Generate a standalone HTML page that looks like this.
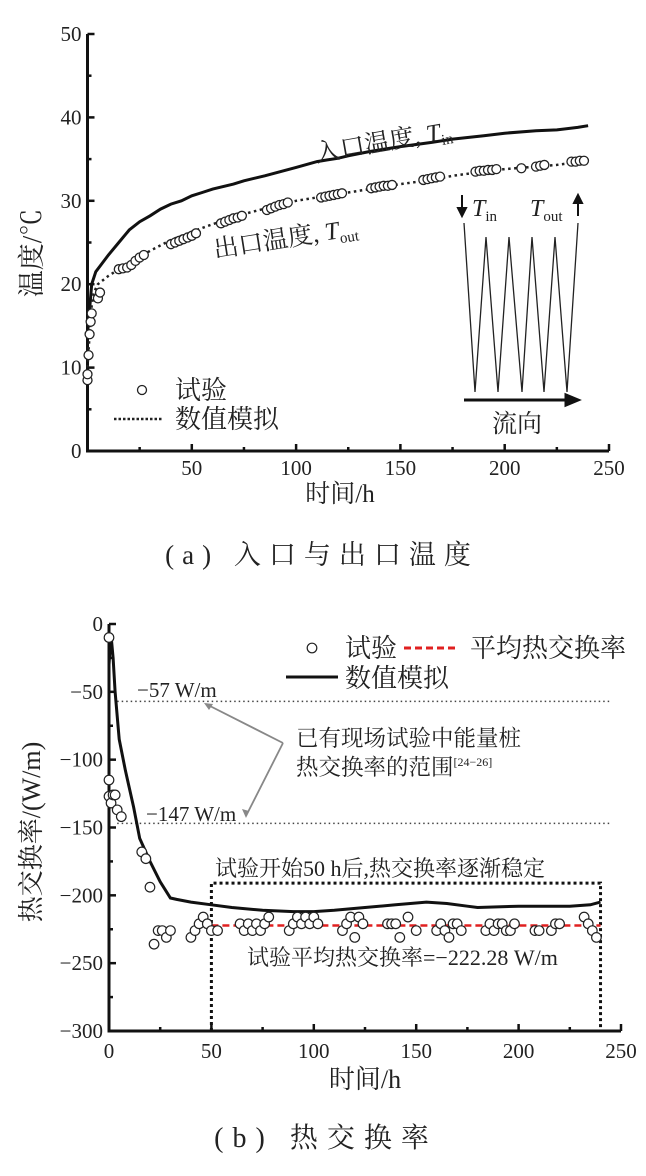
<!DOCTYPE html>
<html><head><meta charset="utf-8">
<style>
html,body{margin:0;padding:0;background:#fff;}
svg{display:block;}
text{font-family:"Liberation Serif","Noto Serif CJK SC",serif;fill:#222;}
.cjk{font-family:"Liberation Serif","Noto Serif CJK SC","Noto Sans CJK SC",serif;}
</style></head>
<body>
<svg id="fig" width="646" height="1176" viewBox="0 0 646 1176" xmlns="http://www.w3.org/2000/svg">
<g id="chartA"></g>
<g id="chartB"></g>
</svg>
<script>
// ---- Chart A data ----
const aTicksX = [50,100,150,200,250];
const aTicksY = [0,10,20,30,40,50];
const tinT = [0,1,2,4,7,10,15,20,25,30,35,40,45,50,55,60,70,75,85,100,110,115,120,125,135,150,165,175,190,200,215,225,235,240];
const tinV = [14,17,20,21.5,22.5,23.5,25,26.5,27.5,28.2,29,29.6,30,30.6,31,31.4,32,32.4,33,34,34.7,34.9,35.1,35.4,35.9,36.5,37,37.4,37.8,38.1,38.4,38.5,38.8,39];
const toutT = [0,1,2,3,5,10,15,20,30,40,50,60,75,90,100,115,125,140,150,165,175,190,200,215,225,240];
const toutV = [10,14,17.5,19,20,21,21.8,22.5,24,25.3,26.3,27.2,28.4,29.4,30,30.6,31,31.6,32,32.5,33,33.5,33.8,34.1,34.3,34.8];
const expAT = [0,0,0.5,1,1.5,2,5,6,15,17,19,21,23,25,27,40,42,44,46,48,50,52,64,66,68,70,72,74,86,88,90,92,94,96,112,114,116,118,120,122,136,138,140,142,144,146,161,163,165,167,169,186,188,190,192,194,196,208,215,217,219,232,234,236,238];
const expAV = [8.5,9.2,11.5,14,15.5,16.5,18.3,19,21.8,21.9,22,22.3,22.8,23.2,23.5,24.8,25,25.2,25.4,25.6,25.8,26.1,27.3,27.5,27.7,27.9,28,28.2,28.9,29.1,29.3,29.5,29.6,29.8,30.4,30.5,30.6,30.7,30.8,30.9,31.5,31.6,31.7,31.8,31.8,31.9,32.5,32.6,32.7,32.8,32.9,33.5,33.6,33.6,33.7,33.7,33.8,33.9,34.1,34.2,34.3,34.7,34.7,34.8,34.8];

// ---- Chart B data ----
const bTicksX = [0,50,100,150,200,250];
const bTicksY = [0,-50,-100,-150,-200,-250,-300];
const simT = [0,1,2,3,5,8,12,15,20,25,30,33,40,50,60,75,90,100,110,125,140,155,165,175,180,200,225,235,240];
const simV = [-30,-8,-25,-50,-85,-108,-135,-158,-175,-190,-202,-203,-205,-207,-209,-211,-212,-212,-211,-209,-207,-205,-206,-208,-209,-208,-208,-207,-205];
const expBT = [0,0,0,1,2,3,4,6,16,18,20,22,24,26,28,30,40,42,44,46,48,50,53,64,66,68,70,72,74,76,78,88,90,92,94,96,98,100,102,114,116,118,120,122,124,136,138,140,142,146,150,160,162,164,166,168,170,172,184,186,188,190,192,194,196,198,208,210,216,218,220,232,234,236,238];
const expBV = [-10,-115,-127,-132,-126,-126,-137,-142,-168,-173,-194,-236,-226,-226,-231,-226,-231,-226,-221,-216,-221,-226,-226,-221,-226,-221,-226,-221,-226,-221,-216,-226,-221,-216,-221,-216,-221,-216,-221,-226,-221,-216,-231,-216,-221,-221,-221,-221,-231,-216,-226,-226,-221,-226,-231,-221,-221,-226,-226,-221,-226,-221,-221,-226,-226,-221,-226,-226,-226,-221,-221,-216,-221,-226,-231];
const meanRate = [-222.28];
const refLines = [-57,-147];
const stableStart = [50,240,-191];

const NS = "http://www.w3.org/2000/svg";
function mk(parent, tag, attrs, txt){
  const e = document.createElementNS(NS, tag);
  for (const k in attrs) e.setAttribute(k, attrs[k]);
  if (txt !== undefined) e.textContent = txt;
  parent.appendChild(e);
  return e;
}
const axA = {x0:87.5, x1:609, y0:451, y1:34, vmax:50, tmax:250};
function ax(t){return axA.x0 + t*(axA.x1-axA.x0)/axA.tmax;}
function ay(v){return axA.y0 - v*(axA.y0-axA.y1)/axA.vmax;}
const axB = {x0:109, x1:621, y0:624, y1:1031};
function bx(t){return axB.x0 + t*(axB.x1-axB.x0)/250;}
function by(v){return axB.y0 + (-v)*(axB.y1-axB.y0)/300;}

// ======== Chart A ========
const A = document.getElementById('chartA');
let e;
e = mk(A,'path',{d:`M${ax(0)},${ay(50)} V${ay(0)} H${ax(250)}`,fill:'none',stroke:'#111','stroke-width':3});


for (let v=0; v<=50; v+=5){
  const len = v%10===0?7:4;
  e = mk(A,'line',{x1:ax(0),x2:ax(0)+len,y1:ay(v),y2:ay(v),stroke:'#111','stroke-width':2.5});
  
  
}
for (let t=25; t<=250; t+=25){
  const len = t%50===0?7:4;
  e = mk(A,'line',{x1:ax(t),x2:ax(t),y1:ay(0),y2:ay(0)-len,stroke:'#111','stroke-width':2.5});
  
  
}
aTicksY.forEach(v=>{
  e = mk(A,'text',{x:ax(0)-6,y:ay(v)+7,'text-anchor':'end','font-size':21},String(v));
  
  
});
aTicksX.forEach(t=>{
  e = mk(A,'text',{x:ax(t),y:475,'text-anchor':'middle','font-size':21},String(t));
  
  
});
e = mk(A,'text',{x:340,y:502,'text-anchor':'middle','font-size':25,class:'cjk'},'时间/h');


e = mk(A,'text',{x:0,y:0,'text-anchor':'middle','font-size':27,class:'cjk',transform:'translate(41,253) rotate(-90)'},'温度/℃');


e = mk(A,'path',{d:tinT.map((t,i)=>(i?'L':'M')+ax(t).toFixed(1)+','+ay(tinV[i]).toFixed(1)).join(' '),fill:'none',stroke:'#111','stroke-width':3});


e = mk(A,'path',{d:toutT.map((t,i)=>(i?'L':'M')+ax(t).toFixed(1)+','+ay(toutV[i]).toFixed(1)).join(' '),fill:'none',stroke:'#222','stroke-width':2.5,'stroke-dasharray':'2.5 3.5'});


expAT.forEach((t,i)=>{
  e = mk(A,'circle',{cx:ax(t),cy:ay(expAV[i]),r:4.5,fill:'#fff',stroke:'#222','stroke-width':1.3});
  
  
});
e = mk(A,'text',{x:0,y:0,'font-size':25,class:'cjk',transform:'translate(317,162) rotate(-10)'});


e.innerHTML = '入口温度, <tspan font-style="italic">T</tspan><tspan font-size="15" dy="5">in</tspan>';
e = mk(A,'text',{x:0,y:0,'font-size':25,class:'cjk',transform:'translate(215,258) rotate(-9)'});


e.innerHTML = '出口温度, <tspan font-style="italic">T</tspan><tspan font-size="15" dy="5">out</tspan>';
const zx=[464,475,486,498,509,522,532,544,555,567,578];
const zy=[223,392,237,392,237,392,237,392,237,392,223];
e = mk(A,'path',{d:zx.map((x,i)=>(i?'L':'M')+x+','+zy[i]).join(' '),fill:'none',stroke:'#222','stroke-width':1.3});


e = mk(A,'path',{d:'M464,400 H572 M566,395 L578,400 L566,405 Z',stroke:'#111','stroke-width':3,fill:'#111'});


e = mk(A,'text',{x:517,y:432,'text-anchor':'middle','font-size':25,class:'cjk'},'流向');


e = mk(A,'path',{d:'M462,195 V210 M458,208 L462,216 L466,208 Z',stroke:'#111','stroke-width':2,fill:'#111'});


e = mk(A,'path',{d:'M578,216 V201 M574,203 L578,195 L582,203 Z',stroke:'#111','stroke-width':2,fill:'#111'});


e = mk(A,'text',{x:472,y:216,'font-size':24});


e.innerHTML = '<tspan font-style="italic">T</tspan><tspan font-size="15" dy="5">in</tspan>';
e = mk(A,'text',{x:530,y:216,'font-size':24});


e.innerHTML = '<tspan font-style="italic">T</tspan><tspan font-size="15" dy="5">out</tspan>';
e = mk(A,'circle',{cx:142,cy:390,r:4.5,fill:'#fff',stroke:'#222','stroke-width':1.3});


e = mk(A,'text',{x:175,y:399,'font-size':26,class:'cjk'},'试验');


e = mk(A,'line',{x1:114,x2:162,y1:419,y2:419,stroke:'#222','stroke-width':2.5,'stroke-dasharray':'2.5 2'});


e = mk(A,'text',{x:175,y:428,'font-size':26,class:'cjk'},'数值模拟');


e = mk(A,'text',{x:322,y:564,'text-anchor':'middle','font-size':27,'letter-spacing':8,class:'cjk'},'(a) 入口与出口温度');



// ======== Chart B ========
const B = document.getElementById('chartB');
e = mk(B,'path',{d:`M${bx(0)},${by(0)} V${by(-300)} H${bx(250)}`,fill:'none',stroke:'#111','stroke-width':3});


for (let v=0; v>=-300; v-=25){
  const len = v%50===0?7:4;
  e = mk(B,'line',{x1:bx(0),x2:bx(0)+len,y1:by(v),y2:by(v),stroke:'#111','stroke-width':2.5});
  
  
}
for (let t=25; t<=250; t+=25){
  const len = t%50===0?7:4;
  e = mk(B,'line',{x1:bx(t),x2:bx(t),y1:by(-300),y2:by(-300)-len,stroke:'#111','stroke-width':2.5});
  
  
}
bTicksY.forEach(v=>{
  e = mk(B,'text',{x:bx(0)-6,y:by(v)+7,'text-anchor':'end','font-size':21},v===0?'0':'−'+(-v));
  
  
});
bTicksX.forEach(t=>{
  e = mk(B,'text',{x:bx(t),y:1058,'text-anchor':'middle','font-size':21},String(t));
  
  
});
e = mk(B,'text',{x:365,y:1088,'text-anchor':'middle','font-size':26,class:'cjk'},'时间/h');


e = mk(B,'text',{x:0,y:0,'text-anchor':'middle','font-size':26,class:'cjk',transform:'translate(40,832) rotate(-90)'},'热交换率/(W/m)');


refLines.forEach(v=>{
  e = mk(B,'line',{x1:bx(4),x2:bx(245),y1:by(v),y2:by(v),stroke:'#444','stroke-width':1.5,'stroke-dasharray':'1.5 3'});
  
  
});
e = mk(B,'text',{x:137,y:697,'font-size':21},'−57 W/m');


e = mk(B,'text',{x:146,y:821,'font-size':21},'−147 W/m');


e = mk(B,'text',{x:296,y:746,'font-size':22.5,class:'cjk'},'已有现场试验中能量桩');


e = mk(B,'text',{x:296,y:775,'font-size':22.5,class:'cjk'});


e.innerHTML = '热交换率的范围<tspan font-size="12" dy="-9">[24−26]</tspan>';
e = mk(B,'path',{d:'M283,743 L206,704 M283,743 L246,816',stroke:'#888','stroke-width':1.8,fill:'none'});


e = mk(B,'path',{d:'M204,703 L213,704 L209,710 Z M246,818 L242,809 L249,811 Z',fill:'#888'});


e = mk(B,'path',{d:`M${bx(stableStart[0])},${by(-300)} V${by(stableStart[2])} H${bx(stableStart[1])} V${by(-300)}`,fill:'none',stroke:'#111','stroke-width':3,'stroke-dasharray':'3 3'});


e = mk(B,'text',{x:215,y:876,'font-size':22,class:'cjk'},'试验开始50 h后,热交换率逐渐稳定');


e = mk(B,'path',{d:simT.map((t,i)=>(i?'L':'M')+bx(t).toFixed(1)+','+by(simV[i]).toFixed(1)).join(' '),fill:'none',stroke:'#111','stroke-width':3});


e = mk(B,'line',{x1:bx(50),x2:bx(240),y1:by(meanRate[0]),y2:by(meanRate[0]),stroke:'#e02020','stroke-width':2.5,'stroke-dasharray':'7 4'});


expBT.forEach((t,i)=>{
  e = mk(B,'circle',{cx:bx(t),cy:by(expBV[i]),r:4.8,fill:'#fff',stroke:'#222','stroke-width':1.2});
  
  
});
e = mk(B,'text',{x:247,y:965,'font-size':22,class:'cjk'},'试验平均热交换率=−222.28 W/m');


e = mk(B,'circle',{cx:312,cy:648,r:4.8,fill:'#fff',stroke:'#222','stroke-width':1.2});


e = mk(B,'text',{x:345,y:657,'font-size':26,class:'cjk'},'试验');


e = mk(B,'line',{x1:404,x2:456,y1:648,y2:648,stroke:'#e02020','stroke-width':3,'stroke-dasharray':'7 4'});


e = mk(B,'text',{x:470,y:657,'font-size':26,class:'cjk'},'平均热交换率');


e = mk(B,'line',{x1:286,x2:338,y1:677,y2:677,stroke:'#111','stroke-width':3});


e = mk(B,'text',{x:345,y:687,'font-size':26,class:'cjk'},'数值模拟');


e = mk(B,'text',{x:326,y:1147,'text-anchor':'middle','font-size':28,'letter-spacing':9,class:'cjk'},'(b) 热交换率');


</script>
</body></html>
